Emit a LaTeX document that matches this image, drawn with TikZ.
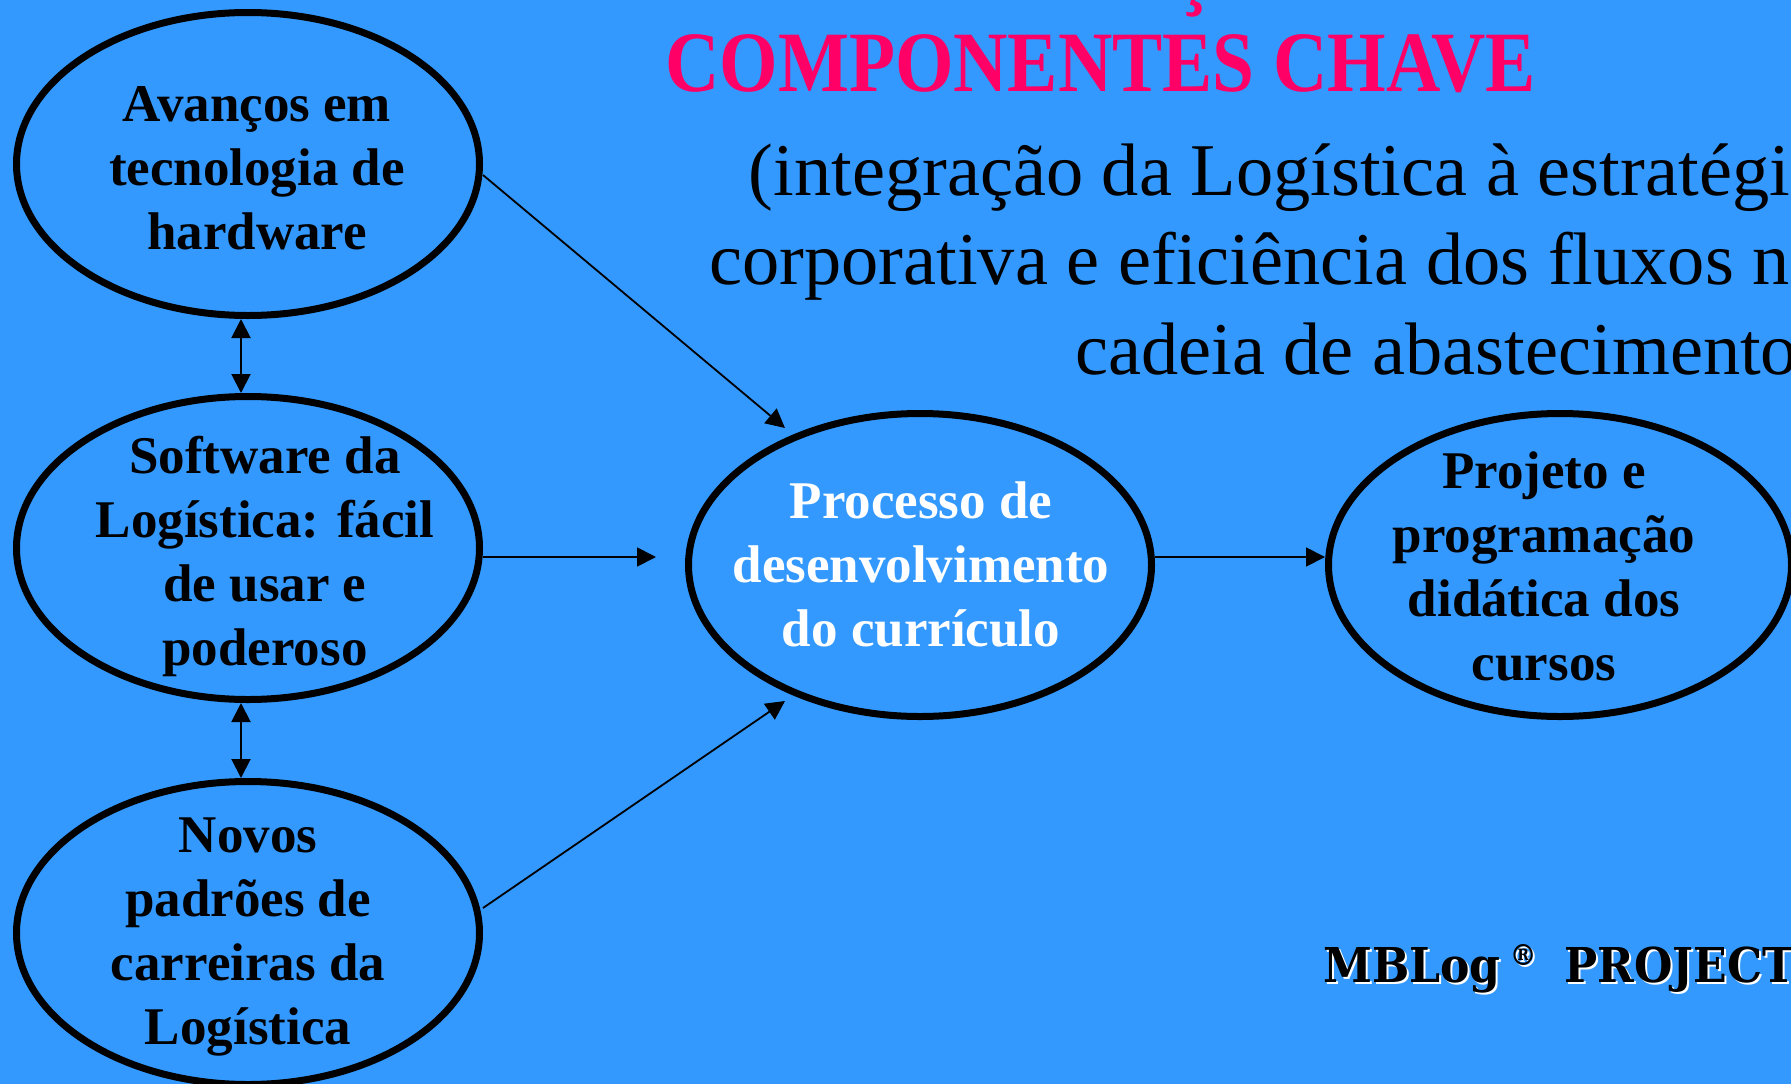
\documentclass[tikz,border=0pt]{standalone}
\usepackage{fontspec}
\setmainfont{Liberation Serif}
\newfontfamily\titlefont[FakeStretch=0.875]{Liberation Serif}
\newfontfamily\slabfont[FakeStretch=0.92]{DejaVu Serif}
\usetikzlibrary{arrows.meta,shapes.geometric}
\definecolor{bgblue}{RGB}{51,153,255}
\definecolor{titlepink}{RGB}{255,0,102}
\begin{document}
\begin{tikzpicture}[x=1pt,y=-1pt,
  oval/.style={ellipse, draw=black, line width=7pt, minimum width=463pt, minimum height=303pt, inner sep=0pt},
  lbl/.style={align=center, inner sep=0pt, anchor=north, font=\bfseries\fontsize{53}{64}\selectfont},
  arr/.style={-{Triangle[length=19pt,width=19pt]}, line width=1.8pt},
  darr/.style={{Triangle[length=19pt,width=19pt]}-{Triangle[length=19pt,width=19pt]}, line width=2pt}]
\path[use as bounding box] (0,0) rectangle (1791,1084);
\fill[bgblue] (0,0) rectangle (1791,1084);

% title
\node[anchor=base, inner sep=0pt, text=titlepink, font=\titlefont\bfseries\fontsize{86}{90}\selectfont] (ced) at (1193,-1) {Ç};
\node[anchor=base west, inner sep=0pt, text=titlepink, font=\titlefont\bfseries\fontsize{86}{90}\selectfont] (title) at (665,91) {COMPONENTES CHAVE};
\node[anchor=north east, align=right, inner sep=0pt, font=\fontsize{74.4}{89.5}\selectfont] (sub) at (1823,132.35)
  {\strut(integração da Logística à estratégia\\ \strut corporativa e eficiência dos fluxos na\\ \strut cadeia de abastecimento)};

% ellipses
\node[oval] (E1) at (248,164) {};
\node[oval] (E2) at (248,548) {};
\node[oval] (E3) at (248,933) {};
\node[oval] (E4) at (920,565) {};
\node[oval] (E5) at (1560,565) {};

\node[lbl] (L1) at (257,76.2) {\strut Avanços em\\ \strut tecnologia de\\ \strut hardware};
\node[lbl] (L2) at (265,428.2) {\strut Software da\\ \strut Logística: fácil\\ \strut de usar e\\ \strut poderoso};
\node[lbl] (L3) at (248,807.2) {\strut Novos\\ \strut padrões de\\ \strut carreiras da\\ \strut Logística};
\node[lbl, text=white] (L4) at (921,473.2) {\strut Processo de\\ \strut desenvolvimento\\ \strut do currículo};
\node[lbl] (L5) at (1544,443.2) {\strut Projeto e\\ \strut programação\\ \strut didática dos\\ \strut cursos};

% connectors
\coordinate (t1) at (785,428);
\coordinate (t2) at (656,557);
\coordinate (t3) at (785,701);
\draw[darr] ([xshift=-7pt]E1.south) -- ([xshift=-7pt]E2.north);
\draw[darr] ([xshift=-7pt]E2.south) -- ([xshift=-7pt]E3.north);
\draw[arr] ([yshift=-11pt]E1.east) -- (t1);
\draw[arr] ([yshift=-9pt]E2.east) -- (t2);
\draw[arr] ([yshift=25pt]E3.east) -- (t3);
\draw[arr] ([yshift=8pt]E4.east) -- ([yshift=8pt]E5.west);

% MBLog project
\node[anchor=base west, inner sep=0pt, text=white, font=\slabfont\bfseries\fontsize{48}{50}\selectfont] (mbs) at (1325,984)
  {MBLog\hspace{9pt}\raisebox{17pt}{\fontsize{29}{29}\selectfont ®}\hspace{28pt}PROJECT};
\node[anchor=base west, inner sep=0pt, text=black, font=\slabfont\bfseries\fontsize{48}{50}\selectfont] (mb) at (1323,982)
  {MBLog\hspace{9pt}\raisebox{17pt}{\fontsize{29}{29}\selectfont ®}\hspace{28pt}PROJECT};
\end{tikzpicture}
\end{document}
